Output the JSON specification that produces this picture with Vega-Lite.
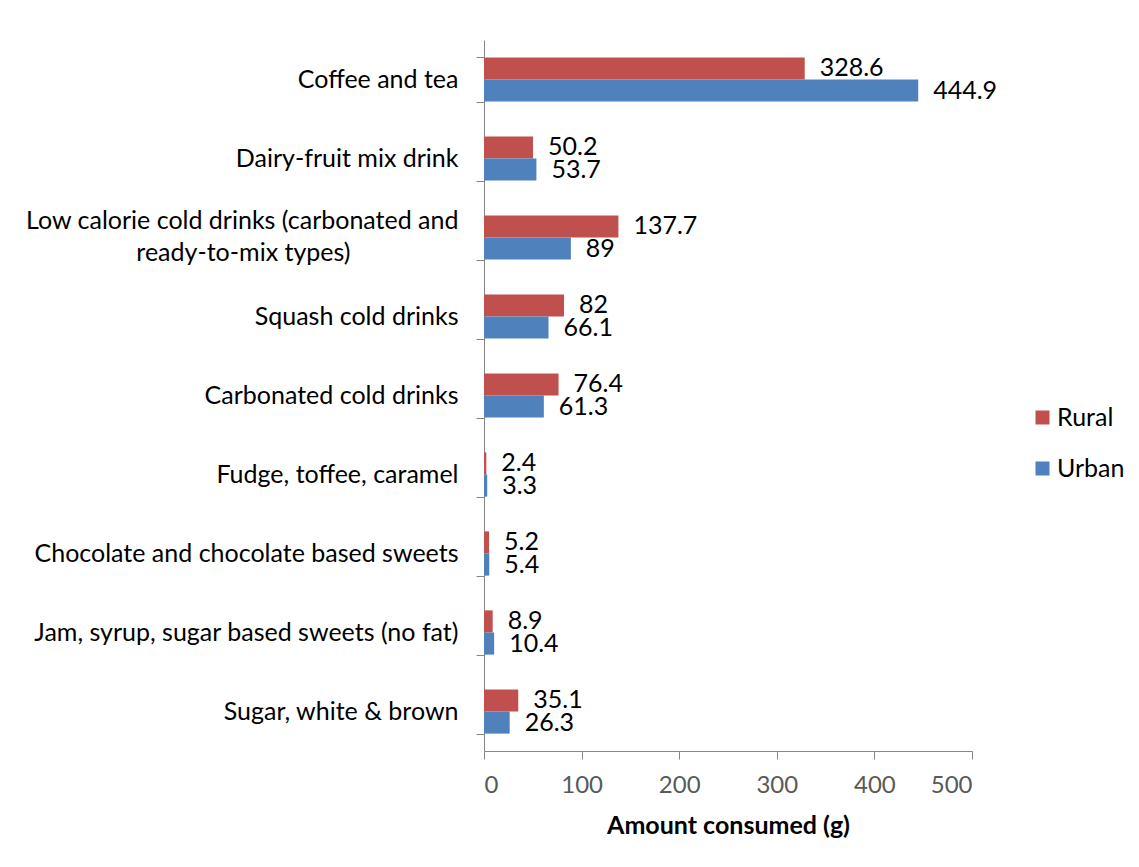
{
  "$schema": "https://vega.github.io/schema/vega-lite/v6.json",
  "width": 488,
  "height": 711,
  "autosize": "none",
  "padding": {"left": 484, "top": 40, "right": 167, "bottom": 116},
  "background": "white",
  "config": {
    "view": {"stroke": null},
    "font": "Lato"
  },
  "data": {
    "values": [
      {"category": "Coffee and tea", "group": "Rural", "value": 328.6},
      {"category": "Coffee and tea", "group": "Urban", "value": 444.9},
      {"category": "Dairy-fruit mix drink", "group": "Rural", "value": 50.2},
      {"category": "Dairy-fruit mix drink", "group": "Urban", "value": 53.7},
      {"category": "Low calorie cold drinks (carbonated and|ready-to-mix types)\u2800\u2800\u2800\u2800\u2800\u2800", "group": "Rural", "value": 137.7},
      {"category": "Low calorie cold drinks (carbonated and|ready-to-mix types)\u2800\u2800\u2800\u2800\u2800\u2800", "group": "Urban", "value": 89},
      {"category": "Squash cold drinks", "group": "Rural", "value": 82},
      {"category": "Squash cold drinks", "group": "Urban", "value": 66.1},
      {"category": "Carbonated cold drinks", "group": "Rural", "value": 76.4},
      {"category": "Carbonated cold drinks", "group": "Urban", "value": 61.3},
      {"category": "Fudge, toffee, caramel", "group": "Rural", "value": 2.4},
      {"category": "Fudge, toffee, caramel", "group": "Urban", "value": 3.3},
      {"category": "Chocolate and chocolate based sweets", "group": "Rural", "value": 5.2},
      {"category": "Chocolate and chocolate based sweets", "group": "Urban", "value": 5.4},
      {"category": "Jam, syrup, sugar based sweets (no fat)", "group": "Rural", "value": 8.9},
      {"category": "Jam, syrup, sugar based sweets (no fat)", "group": "Urban", "value": 10.4},
      {"category": "Sugar, white & brown", "group": "Rural", "value": 35.1},
      {"category": "Sugar, white & brown", "group": "Urban", "value": 26.3}
    ]
  },
  "encoding": {
    "y": {
      "field": "category",
      "type": "nominal",
      "sort": null,
      "scale": {"paddingInner": 0.44, "paddingOuter": 0.22},
      "axis": {
        "title": null,
        "tickBand": "extent",
        "tickSize": 8,
        "tickColor": "#868686",
        "domainColor": "#868686",
        "labelPadding": 18,
        "labelFontSize": 25,
        "labelColor": "#000000",
        "labelLimit": 600,
        "labelLineHeight": 32,
        "labelBaseline": {"condition": {"test": "indexof(datum.label, '|') >= 0", "value": "line-bottom"}, "value": "middle"},
        "labelExpr": "split(datum.label, '|')"
      }
    },
    "yOffset": {"field": "group", "type": "nominal", "sort": ["Rural", "Urban"]},
    "x": {
      "field": "value",
      "type": "quantitative",
      "scale": {"domain": [0, 500]},
      "axis": {
        "title": "Amount consumed (g)",
        "titleFontSize": 25,
        "titleFontWeight": "bold",
        "titleColor": "#000000",
        "titlePadding": 16,
        "values": [0, 100, 200, 300, 400, 500],
        "grid": false,
        "tickSize": 8,
        "tickColor": "#868686",
        "domainColor": "#868686",
        "labelFontSize": 24,
        "labelColor": "#595959",
        "labelPadding": 14
      }
    }
  },
  "layer": [
    {
      "mark": {"type": "bar"},
      "encoding": {
        "color": {
          "field": "group",
          "type": "nominal",
          "scale": {"domain": ["Rural", "Urban"], "range": ["#C0504D", "#4F81BD"]},
          "legend": {
            "title": null,
            "orient": "none",
            "legendX": 546,
            "legendY": 365,
            "symbolType": "square",
            "symbolSize": 196,
            "symbolStrokeWidth": 0,
            "labelFontSize": 25,
            "labelColor": "#000000",
            "rowPadding": 25,
            "labelOffset": 2
          }
        }
      }
    },
    {
      "mark": {"type": "text", "align": "left", "baseline": "middle", "dx": 15, "fontSize": 25, "color": "#000000"},
      "encoding": {
        "text": {"field": "value", "type": "quantitative"}
      }
    }
  ]
}
